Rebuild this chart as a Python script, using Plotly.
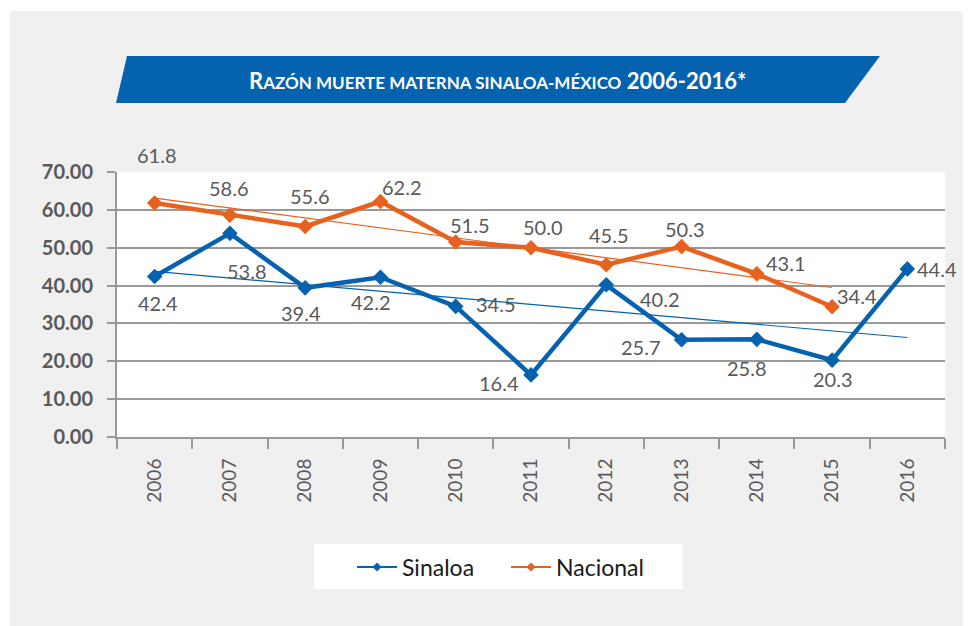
import numpy as np
import plotly.graph_objects as go

years = ["2006", "2007", "2008", "2009", "2010", "2011", "2012", "2013", "2014", "2015", "2016"]
sinaloa = [42.4, 53.8, 39.4, 42.2, 34.5, 16.4, 40.2, 25.7, 25.8, 20.3, 44.4]
nacional = [61.8, 58.6, 55.6, 62.2, 51.5, 50.0, 45.5, 50.3, 43.1, 34.4]
y_ticks = [0, 10, 20, 30, 40, 50, 60, 70]

# label offsets in px (dx, dy up) - styling only
sin_off = [(3, -27), (17, -38), (-4, -25), (-9, -25), (40, 2), (-32, -8), (54, -14), (-41, -7), (-10, -29), (1, -19), (30, 0)]
nac_off = [(2, 48), (-1, 27), (5, 31), (22, 15), (14, 17), (12, 21), (3, 30), (3, 18), (29, 11), (25, 11)]

BLUE = "#0562AE"
ORANGE = "#E8621F"
GRID = "#999999"
LABEL = "#595959"
FONT = "Lato"

OFF = 8  # page body margin
W, H = 971, 626
L, R, T, B = 117, 945, 172, 437


def px(xp):
    return (xp - L) / (R - L)


def py(yp):
    return (B - yp) / (B - T)


# linear trends (least squares) computed from the data
xs_s = np.arange(len(sinaloa))
trend_s = np.polyval(np.polyfit(xs_s, sinaloa, 1), xs_s)
xs_n = np.arange(len(nacional))
trend_n = np.polyval(np.polyfit(xs_n, nacional, 1), xs_n)

fig = go.Figure()
fig.add_trace(go.Scatter(x=years, y=trend_s, mode="lines", line=dict(color=BLUE, width=1.2),
                         showlegend=False, hoverinfo="skip"))
fig.add_trace(go.Scatter(x=years[:len(nacional)], y=trend_n, mode="lines", line=dict(color=ORANGE, width=1.2),
                         showlegend=False, hoverinfo="skip"))
fig.add_trace(go.Scatter(x=years, y=sinaloa, mode="lines+markers", name="Sinaloa",
                         line=dict(color=BLUE, width=4.5),
                         marker=dict(symbol="diamond", size=12, color=BLUE), showlegend=False))
fig.add_trace(go.Scatter(x=years[:len(nacional)], y=nacional, mode="lines+markers", name="Nacional",
                         line=dict(color=ORANGE, width=4.5),
                         marker=dict(symbol="diamond", size=12, color=ORANGE), showlegend=False))
# legend entries
fig.add_trace(go.Scatter(x=[None], y=[None], mode="lines+markers", name="Sinaloa",
                         line=dict(color=BLUE, width=2), marker=dict(symbol="diamond", size=7, color=BLUE)))
fig.add_trace(go.Scatter(x=[None], y=[None], mode="lines+markers", name="Nacional",
                         line=dict(color=ORANGE, width=2), marker=dict(symbol="diamond", size=7, color=ORANGE)))

annotations = []
for i, (v, (dx, dy)) in enumerate(zip(sinaloa, sin_off)):
    annotations.append(dict(x=i, y=v, xref="x", yref="y", text=f"{v:.1f}", showarrow=False,
                            xshift=dx, yshift=dy, font=dict(family=FONT, size=20, color=LABEL)))
for i, (v, (dx, dy)) in enumerate(zip(nacional, nac_off)):
    annotations.append(dict(x=i, y=v, xref="x", yref="y", text=f"{v:.1f}", showarrow=False,
                            xshift=dx, yshift=dy, font=dict(family=FONT, size=20, color=LABEL)))

title_html = ("<b>R<span style='font-size:17px'>AZÓN MUERTE MATERNA SINALOA-MÉXICO</span>"
              " 2006-2016*</b>")
annotations.append(dict(x=px(497), y=py(80), xref="paper", yref="paper", text=title_html,
                        showarrow=False, xanchor="center", yanchor="middle",
                        font=dict(family=FONT, size=22, color="white")))

shapes = [
    # white margin strips at top and left
    dict(type="rect", xref="paper", yref="paper", x0=px(0), x1=px(W), y0=py(11), y1=py(0),
         fillcolor="white", line=dict(width=0), layer="below"),
    dict(type="rect", xref="paper", yref="paper", x0=px(0), x1=px(10), y0=py(H), y1=py(0),
         fillcolor="white", line=dict(width=0), layer="below"),
    # title banner
    dict(type="path", xref="paper", yref="paper",
         path=f"M {px(127)} {py(56)} L {px(880)} {py(56)} L {px(845)} {py(103)} L {px(116)} {py(103)} Z",
         fillcolor=BLUE, line=dict(width=0), layer="below"),
    # legend box
    dict(type="rect", xref="paper", yref="paper", x0=px(314), x1=px(683), y0=py(589), y1=py(544),
         fillcolor="white", line=dict(width=0), layer="below"),
]

fig.update_layout(
    width=W - OFF, height=H - OFF,
    margin=dict(l=L - OFF, r=W - R, t=T - OFF, b=H - B, pad=0),
    paper_bgcolor="#f0f0f0",
    plot_bgcolor="white",
    font=dict(family=FONT, color=LABEL),
    showlegend=True,
    legend=dict(orientation="h", x=px(506), y=py(567), xanchor="center", yanchor="middle",
                bgcolor="rgba(0,0,0,0)", font=dict(family=FONT, size=23, color="#1a1a1a"),
                itemwidth=40, entrywidth=99),
    annotations=annotations,
    shapes=shapes,
    xaxis=dict(type="category", showgrid=False, showline=True, linecolor=GRID, linewidth=2,
               ticks="outside", tickson="boundaries", ticklen=10, tickcolor=GRID, tickwidth=2,
               tickangle=-90, tickfont=dict(family=FONT, size=19, color=LABEL),
               ticklabelstandoff=12, range=[-0.5, 10.5]),
    yaxis=dict(range=[0, 70], tickvals=y_ticks, tickformat=".2f", showgrid=True, gridcolor=GRID,
               gridwidth=2, showline=True, linecolor=GRID, linewidth=2, zeroline=False,
               ticks="outside", ticklen=8, tickcolor=GRID, tickwidth=2,
               tickfont=dict(family=FONT, size=20, color=LABEL, weight="bold"),
               ticklabelstandoff=10),
)

fig.write_html("out.html")
